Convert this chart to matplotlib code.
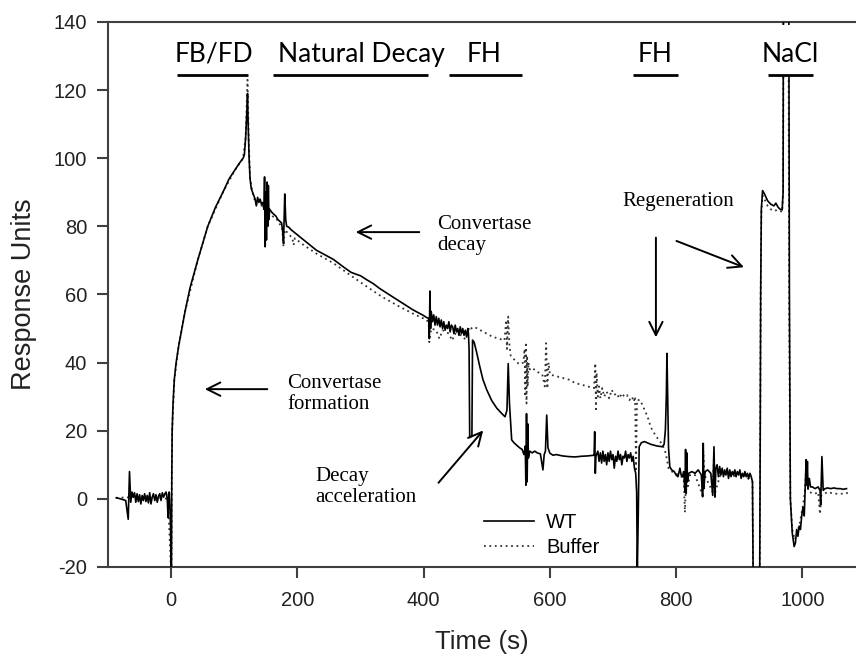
import matplotlib
matplotlib.use("Agg")
import matplotlib.pyplot as plt
from matplotlib.ticker import MultipleLocator
from matplotlib.patches import Rectangle

plt.rcParams['font.family'] = ['Liberation Sans', 'DejaVu Sans']
plt.rcParams['axes.unicode_minus'] = False

# Sensorgram: WT vs buffer, time (s) / response units
wt_time = [
    -87, -80, -72, -68, -66, -64, -62, -60, -58, -56, -54, -52, -50, -48, -46, -44, -42, -40,
    -38, -36, -34, -32, -30, -28, -26, -24, -22, -20, -18, -16, -14, -12, -10, -8, -6, -5,
    -4, -3, -2, -1, 0, 0.5, 1.0, 1.6, 3, 5, 7.9, 12, 17, 22, 30, 42, 58, 70, 82, 92, 101,
    108, 114, 116, 118, 120, 121, 122, 123.5, 125, 127, 130, 133, 135, 137, 139, 141, 143,
    145, 147, 148, 149, 150, 151, 152, 153, 154, 155, 156, 158, 160, 163, 166, 169, 172,
    175, 177, 178, 179, 180, 181.5, 183, 186, 190, 200, 210, 220, 230, 240, 250, 257, 265,
    275, 285, 295, 300, 310, 320, 330, 340, 350, 362, 372, 382, 392, 400, 405, 408, 409,
    410, 411, 412, 414, 416, 418, 420, 422, 424, 426, 428, 430, 432, 434, 436, 438, 440,
    442, 444, 446, 448, 450, 452, 454, 456, 458, 460, 462, 464, 466, 468, 470, 471, 472,
    473, 476.5, 477.5, 480, 484, 489, 494, 500, 508, 516, 524, 529, 532, 534, 536, 539.5,
    543, 547, 552, 556, 559, 561, 562, 563, 564, 565, 566, 568, 572, 576, 580, 585, 589,
    591, 593, 595, 597, 600, 605, 610, 620, 630, 640, 650, 660, 670, 671, 672, 673, 676,
    678, 680, 682, 684, 686, 688, 690, 692, 694, 696, 698, 700, 702, 704, 706, 708, 710,
    712, 714, 716, 718, 720, 722, 724, 726, 728, 730, 732, 734, 736, 737.5, 738.5, 740,
    741.5, 745, 750, 760, 770, 778, 781, 783, 784.5, 785.5, 787, 788, 790, 793, 797, 800,
    803, 806, 808, 810, 812, 814, 815, 816, 817, 818, 820, 825, 830, 835, 840, 842, 843,
    844, 846, 850, 855, 858, 860, 861.5, 863, 865, 867, 869, 871, 873, 875, 877, 879, 881,
    883, 885, 887, 889, 891, 893, 895, 897, 899, 901, 903, 905, 907, 909, 911, 913, 915,
    917, 919, 921, 922, 932.5, 934, 935, 937, 940, 945, 950, 955, 958, 962, 965, 968,
    969.5, 970, 978.5, 979.5, 981, 984, 987, 989, 991, 993, 995, 997, 999, 1001, 1003,
    1005, 1006, 1007, 1008, 1009, 1011, 1013, 1016, 1020, 1025, 1028, 1029, 1031, 1033,
    1036, 1040, 1045, 1050, 1055, 1060, 1065, 1070]
wt_resp = [
    0.3, 0.0, -0.5, -6.0, 8.0, -1.0, 2.0, 0.5, 1.8, -1.0, 1.5, -0.8, 1.2, -1.5, 1.0, -0.5,
    1.5, -0.8, 1.0, -1.2, 1.8, -1.5, 0.5, 1.5, -0.5, 1.2, -1.0, 0.8, 1.5, -0.5, 1.8, 0.5,
    1.5, 2.0, -0.5, -5.5, 1.5, 2.0, -2.0, -8.0, -22, -22, 5, 20, 28, 35, 40, 45, 50, 55,
    62, 70, 80, 85.5, 90, 94, 96.5, 98.5, 100, 101, 106, 114, 119, 110, 100, 94, 91, 89.5,
    88, 86, 88.5, 87, 88, 86.5, 87, 85, 94.5, 74, 90, 76, 93, 80, 92, 82, 85, 84.5, 84,
    83.5, 83, 82, 81.5, 81, 78, 75, 82, 89.5, 82, 80, 79.8, 79, 77.5, 76, 74.5, 73, 72,
    71, 70.3, 69.2, 67.8, 66.5, 65.8, 65.5, 64.3, 63.2, 61.8, 60.6, 59.4, 58, 56.8, 55.6,
    54.6, 53.8, 53.2, 53, 47, 61, 50, 55, 52, 54, 51, 53.5, 51, 53, 50.5, 52.5, 50, 52,
    49.5, 51, 50, 52, 49, 51, 50.5, 48.5, 51, 49, 50, 48, 50.5, 48.5, 50, 48, 49.5, 47.5,
    50, 48.5, 44, 18, 18.5, 46.6, 46, 43, 38.8, 35, 32, 28.8, 26.6, 25, 24.1, 26, 39.7,
    28, 17.3, 16.5, 15.8, 15, 14.5, 13, 15.5, 4, 25, 5, 22, 12, 14, 13.5, 14, 13.5, 13.2,
    8.5, 13, 14, 24.6, 15, 13.4, 12.8, 13, 12.6, 12.4, 12.3, 12.5, 12.6, 12.8, 19.7, 7.5,
    12.5, 14, 11, 13.5, 10.5, 14, 11, 13, 10, 13.5, 11, 14, 11.5, 13, 9, 12.5, 11, 14,
    11.5, 13, 10, 12.5, 12, 14, 11, 13, 12, 13.5, 11, 12.5, 9, 7.5, 2, -22, -5, 15.3,
    16.5, 16.8, 16, 15.5, 15.3, 16, 20.2, 30, 42.7, 25, 15, 9.4, 8.5, 8, 7, 6.5, 9, 7,
    6.5, 8, 2, 14.5, 1.6, 13.5, 5, 7.5, 8, 7.5, 8.5, 7, 0.6, 16.3, 3, 8, 8.5, 7.5, 1,
    15.3, 0.5, 9, 10, 6.5, 9.5, 7, 9, 6.5, 8.5, 7, 9, 6, 8.5, 6.5, 8, 7, 8.5, 6.5, 8, 7,
    8.5, 6, 7.5, 6.5, 8, 6.5, 7.5, 6, 7.5, 6.5, 5, -22, -22, 60, 85, 90.5, 89.5, 87.5,
    86.5, 86, 86.8, 85.5, 85, 84.8, 90, 150, 150, 60, 0, -10, -14, -13, -9, -11, -8, -9,
    -5, -2.5, -5, 6, 11.5, 4, 11, 3, 6, 3.5, 3.5, 3, 3.5, 2.5, -1.8, 12.4, 2.5, 3, 3.2,
    3, 3.2, 3, 3, 2.8, 3]

buf_time = [
    -87, -60, -30, -5, 0, 0.5, 1.0, 1.6, 5, 12, 22, 42, 58, 82, 101, 114, 118, 121, 123,
    125, 130, 135, 145, 149, 152, 160, 166, 176, 178, 180, 186, 192, 194, 196, 210, 230,
    257, 285, 310, 335, 362, 385, 405, 408, 409, 412, 420, 425, 430, 440, 445, 450, 460,
    465, 470, 472, 475, 480, 490, 500, 510, 520, 528, 531, 532, 534, 536, 538, 543, 548,
    553, 558, 560, 561, 562, 563, 564, 565, 566, 568, 572, 578, 583, 588, 592, 594, 596,
    598, 600, 610, 620, 630, 640, 650, 660, 670, 672, 673, 674, 676, 678, 680, 683, 686,
    690, 694, 698, 702, 706, 710, 714, 718, 722, 726, 730, 733, 735, 736.5, 738, 743, 748,
    755, 760, 768, 776, 782, 785, 788, 790, 797, 805, 812, 814, 816, 818, 822, 830, 842,
    843, 845, 858, 860, 862, 870, 880, 890, 900, 910, 921, 922, 932.5, 934, 935, 937, 940,
    945, 950, 955, 960, 965, 968, 969.5, 970, 978, 979, 981, 984, 988, 992, 996, 1000,
    1004, 1006, 1008, 1010, 1014, 1020, 1025, 1028, 1030, 1035, 1040, 1050, 1060, 1068,
    1072]
buf_resp = [
    0.3, 0.5, 0.5, 0.0, -22, -22, 5, 20, 35, 45, 55, 70, 80, 90, 96.5, 100, 106, 123,
    105, 94, 89, 86.5, 86, 85, 84, 83, 82.5, 79.5, 74, 79, 77.8, 76.5, 74.5, 76.5, 74.5,
    72, 69.2, 65.5, 62.3, 59.2, 56.4, 54.2, 52.5, 51.5, 46, 50, 49.5, 47, 49.5, 48.5,
    46.5, 48.5, 48, 47, 48.5, 50.5, 50, 50.5, 49.5, 48.5, 47.5, 47, 46.5, 52.5, 44, 53.5,
    45, 42, 41, 40, 39.5, 40, 44, 30, 46, 28, 42, 33, 40, 38, 38.5, 37.5, 37, 36.5, 33,
    45.7, 32.4, 40, 36.5, 36, 35.5, 35, 34, 33.5, 33, 32.5, 39.8, 25.6, 37, 30, 33, 29.5,
    32.5, 30, 31.5, 29.5, 32, 30.5, 31, 29.5, 31, 30, 30.5, 29, 30, 28.5, 30, 8, 29, 29,
    27, 24, 21, 18.4, 16.5, 14.5, 12, 9, 8.5, 7.5, 7, 6, -4, 8, 3, 7, 7, 1, 14, 7, 2, 13,
    2, 7, 7.5, 6.5, 7.5, 6.5, 5, -22, -22, 60, 84, 89, 88, 86, 85, 84.5, 84.8, 84.5,
    84.2, 90, 150, 150, 60, 0, -9, -12, -10, -7, -3, 2, 9, 4, 2, 1.8, 1.5, 2, -4.5, 1,
    1.5, 2, 1.5, 1.5, 1.5, 1.8]

# injection phases: label, start, end, label centre
phase_labels = ["FB/FD", "Natural Decay", "FH", "FH", "NaCl"]
phase_start = [9.5, 161.5, 440, 731.6, 945]
phase_end = [122, 406.7, 556, 802.8, 1016.6]
phase_mid = [68, 300.9, 495.6, 766.4, 981]

fig = plt.figure(figsize=(8.56, 6.55), dpi=100)
ax = fig.add_axes([0.1262, 0.1344, 0.8738, 0.8321])

ax.plot(wt_time, wt_resp, '-', color='black', lw=1.2, label='WT', zorder=3)
ax.plot(buf_time, buf_resp, color='#333333', lw=1.3, linestyle=(0, (1, 2)), label='Buffer', zorder=2)

ax.set_xlim(-100, 1085)
ax.set_ylim(-20, 140)
ax.set_xticks([0, 200, 400, 600, 800, 1000])
ax.yaxis.set_major_locator(MultipleLocator(20))

for side in ['left', 'bottom', 'top']:
    ax.spines[side].set_color('#404040')
    ax.spines[side].set_linewidth(1.5)
ax.spines['right'].set_visible(False)
ax.tick_params(axis='both', which='major', direction='out', length=8, width=1.5,
               color='#404040', labelsize=14.5, labelcolor='#222222')
ax.tick_params(axis='y', pad=7)
ax.tick_params(axis='x', pad=9)

ax.set_xlabel('Time (s)', fontsize=18.5, color='#222222', labelpad=15)
ax.set_ylabel('Response Units', fontsize=19.5, color='#222222', labelpad=12)

# the NaCl spike runs off scale; keep the label area clear above the bar
ax.add_patch(Rectangle((phase_start[4], 124.4), phase_end[4] - phase_start[4], 14.8,
                       facecolor='white', edgecolor='none', zorder=4))

# phase bars with their labels
for lab, t0, t1, tm in zip(phase_labels, phase_start, phase_end, phase_mid):
    ax.plot([t0, t1], [124.4, 124.4], color='black', lw=2, solid_capstyle='butt', clip_on=False, zorder=5)
    ax.text(tm, 128.3, lab, ha='center', va='baseline', fontsize=19, family='Lato', color='black', zorder=6)

# annotations
serif = 'Liberation Serif'
arrow = dict(arrowstyle='->', lw=1.4, color='black', mutation_scale=24)
ax.annotate('', xy=(288, 78.3), xytext=(397.5, 78.3), arrowprops=arrow)
ax.text(421, 77.4, 'Convertase\ndecay', ha='left', va='center', fontsize=15, family=serif, linespacing=1.15)

ax.annotate('', xy=(49, 32.2), xytext=(156.8, 32.2), arrowprops=arrow)
ax.text(183.7, 30.9, 'Convertase\nformation', ha='left', va='center', fontsize=15, family=serif, linespacing=1.15)

ax.annotate('', xy=(497.2, 20.7), xytext=(420.7, 4.1), arrowprops=arrow)
ax.text(228, 3.6, 'Decay\nacceleration', ha='left', va='center', fontsize=15, family=serif, linespacing=1.15)

ax.text(802.8, 87.2, 'Regeneration', ha='center', va='center', fontsize=15, family=serif)
ax.annotate('', xy=(768, 46.6), xytext=(768, 77.5), arrowprops=arrow)
ax.annotate('', xy=(911.6, 67.7), xytext=(796.5, 76), arrowprops=arrow)

ax.legend(loc='lower left', bbox_to_anchor=(0.502, 0.018), frameon=False, fontsize=14.5,
          handlelength=2.5, handletextpad=0.6, labelspacing=0.3, borderpad=0, borderaxespad=0)

fig.savefig('out.png', dpi=100)
plt.close()
